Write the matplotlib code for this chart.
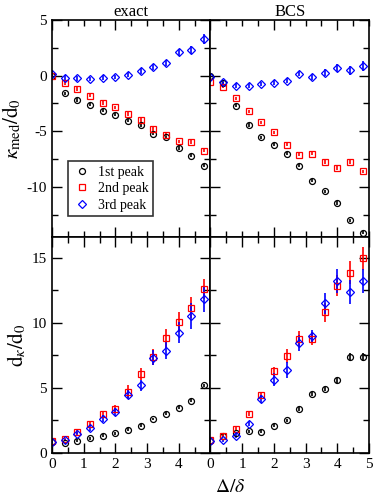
import matplotlib
matplotlib.use("Agg")
import matplotlib.pyplot as plt
from matplotlib.ticker import MultipleLocator
from matplotlib.lines import Line2D

plt.rcParams['font.family'] = ['Liberation Serif', 'DejaVu Serif']
plt.rcParams['mathtext.fontset'] = 'stix'

x = [0.0, 0.4, 0.8, 1.2, 1.6, 2.0, 2.4, 2.8, 3.2, 3.6, 4.0, 4.4, 4.8]

# kappa_med / d0  (top row)
exact_k1 = [0.0, -1.6, -2.2, -2.6, -3.15, -3.5, -4.05, -4.45, -5.2, -5.55, -6.5, -7.2, -8.1]
exact_k2 = [0.0, -0.65, -1.2, -1.8, -2.45, -2.85, -3.45, -4.0, -4.8, -5.3, -5.9, -5.95, -6.75]
exact_k3 = [0.18, -0.18, -0.24, -0.3, -0.18, -0.12, 0.09, 0.42, 0.8, 1.13, 2.08, 2.3, 3.3]
bcs_k1 = [0.0, -0.7, -2.7, -4.45, -5.55, -6.2, -7.0, -8.1, -9.45, -10.4, -11.45, -13.0, -14.1]
bcs_k2 = [-0.55, -1.0, -2.05, -3.2, -4.2, -5.1, -6.2, -7.1, -7.0, -7.75, -8.3, -7.75, -8.6]
bcs_k3 = [-0.1, -0.6, -0.9, -0.9, -0.75, -0.62, -0.45, 0.18, -0.1, 0.27, 0.68, 0.5, 0.83]
err_top_small = [0.15] * 13
err_top_blue = [0.2, 0.2, 0.2, 0.2, 0.2, 0.2, 0.2, 0.25, 0.25, 0.3, 0.35, 0.4, 0.45]

# d_kappa / d0  (bottom row)
exact_d1 = [0.85, 0.77, 0.95, 1.13, 1.33, 1.51, 1.8, 2.1, 2.62, 3.03, 3.49, 4.03, 5.2]
exact_d2 = [0.9, 1.08, 1.6, 2.26, 3.0, 3.41, 4.7, 6.05, 7.38, 8.8, 10.05, 11.18, 12.6]
exact_d3 = [0.85, 1.0, 1.49, 1.92, 2.64, 3.15, 4.49, 5.2, 7.33, 7.85, 9.23, 10.54, 11.82]
exact_e1 = [0.1] * 13
exact_e2 = [0.1, 0.1, 0.15, 0.2, 0.25, 0.3, 0.5, 0.45, 0.6, 0.7, 0.75, 0.8, 0.75]
exact_e3 = [0.1, 0.1, 0.15, 0.2, 0.25, 0.3, 0.35, 0.4, 0.6, 0.65, 0.8, 1.0, 1.0]
bcs_d1 = [0.95, 1.33, 1.54, 1.67, 1.64, 2.1, 2.51, 3.36, 4.56, 4.92, 5.59, 7.36, 7.36]
bcs_d2 = [1.03, 1.33, 1.87, 2.97, 4.46, 6.28, 7.44, 8.77, 8.77, 10.8, 12.87, 13.87, 14.95]
bcs_d3 = [0.92, 0.97, 1.28, 2.26, 4.15, 5.64, 6.38, 8.46, 8.97, 11.49, 13.23, 12.38, 13.23]
bcs_e1 = [0.1, 0.1, 0.1, 0.1, 0.1, 0.1, 0.1, 0.15, 0.15, 0.15, 0.2, 0.3, 0.3]
bcs_e2 = [0.1, 0.1, 0.15, 0.15, 0.25, 0.35, 0.55, 0.6, 0.5, 0.7, 0.8, 0.9, 0.9]
bcs_e3 = [0.1, 0.1, 0.15, 0.2, 0.3, 0.5, 0.6, 0.6, 0.5, 0.8, 0.9, 0.9, 0.9]

labels = ['1st peak', '2nd peak', '3rd peak']

fig = plt.figure(figsize=(3.74, 4.95), dpi=100)
L, R = 52 / 374, 369 / 374
W = (R - L) / 2
T, M, B = 1 - 20 / 495, 1 - 237 / 495, 1 - 453 / 495
ax_tl = fig.add_axes([L, M, W, T - M])
ax_tr = fig.add_axes([L + W, M, W, T - M])
ax_bl = fig.add_axes([L, B, W, M - B])
ax_br = fig.add_axes([L + W, B, W, M - B])

markers = ['o', 's', 'D']
colors = ['black', 'red', 'blue']
msizes = [4.3, 4.0, 3.8]


def draw(ax, ys, es, legend=False):
    for y, e, mk, c, ms in zip(ys, es, markers, colors, msizes):
        ax.errorbar(x, y, yerr=e, fmt=mk, color=c,
                    mfc='none', mec=c, ms=ms, mew=0.9,
                    elinewidth=1.2, capsize=0)
    if legend:
        handles = [Line2D([], [], ls='none', marker=mk, mfc='none', mec=c,
                          ms=ms, mew=0.9)
                   for mk, c, ms in zip(markers, colors, msizes)]
        leg = ax.legend(handles, labels, loc='lower left',
                        bbox_to_anchor=(0.10, 0.095),
                        frameon=True, fancybox=False, edgecolor='black',
                        fontsize=10, handletextpad=0.5, borderpad=0.35,
                        labelspacing=0.25, handlelength=1.3,
                        borderaxespad=0)
        leg.get_frame().set_linewidth(1.2)


draw(ax_tl, [exact_k1, exact_k2, exact_k3], [err_top_small, err_top_small, err_top_blue], legend=True)
draw(ax_tr, [bcs_k1, bcs_k2, bcs_k3], [err_top_small, err_top_small, err_top_blue])
draw(ax_bl, [exact_d1, exact_d2, exact_d3], [exact_e1, exact_e2, exact_e3])
draw(ax_br, [bcs_d1, bcs_d2, bcs_d3], [bcs_e1, bcs_e2, bcs_e3])

for ax in (ax_tl, ax_tr, ax_bl, ax_br):
    ax.set_xlim(0, 5)
    ax.xaxis.set_minor_locator(MultipleLocator(0.5))
    ax.yaxis.set_minor_locator(MultipleLocator(2.5))
    ax.tick_params(which='both', direction='in', top=True, right=True,
                   labelsize=11, width=1.0)
    ax.tick_params(which='major', length=7)
    ax.tick_params(which='minor', length=4)
    for s in ax.spines.values():
        s.set_linewidth(1.2)

for ax in (ax_tl, ax_tr):
    ax.set_ylim(-14.5, 5)
    ax.yaxis.set_major_locator(MultipleLocator(5))
    ax.tick_params(labelbottom=False)
for ax in (ax_bl, ax_br):
    ax.set_ylim(0, 16.6)
    ax.yaxis.set_major_locator(MultipleLocator(5))

ax_tr.tick_params(labelleft=False)
ax_br.tick_params(labelleft=False)
ax_bl.set_xticks([0, 1, 2, 3, 4])
ax_bl.xaxis.set_minor_locator(MultipleLocator(0.5))
ax_br.set_xticks([0, 1, 2, 3, 4, 5])
ax_tl.set_yticks([5, 0, -5, -10])
ax_tl.set_yticklabels(['5', '0', '-5', '-10'])

ax_tl.set_title('exact', fontsize=12, pad=3)
ax_tr.set_title('BCS', fontsize=12, pad=3)
ax_tl.set_ylabel(r'$\kappa_{\rm med}/\mathrm{d}_0$', fontsize=15)
ax_bl.set_ylabel(r'$\mathrm{d}_\kappa/\mathrm{d}_0$', fontsize=15)
ax_tl.yaxis.set_label_coords(-0.18, 0.5)
ax_bl.yaxis.set_label_coords(-0.15, 0.5)
fig.text(230 / 374, 1 - 487 / 495, r'$\Delta/\delta$', fontsize=14, ha='center', va='center')

fig.savefig('out.png', dpi=100)
